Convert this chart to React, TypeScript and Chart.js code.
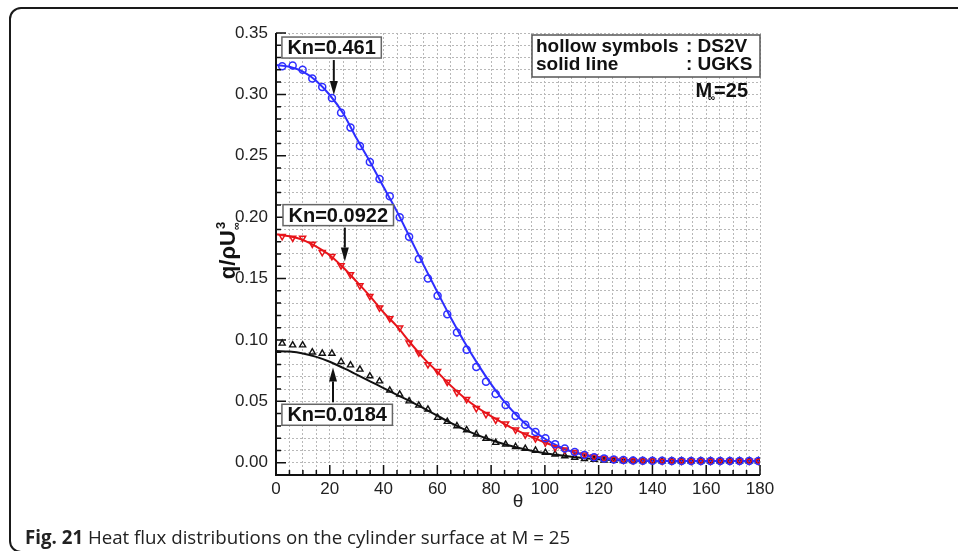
import { useEffect, useRef } from 'react';
import { Chart, registerables } from 'chart.js';

Chart.register(...registerables);

const FONT = '"Liberation Sans", Arial, Helvetica, sans-serif';

// ---------- data ----------
// DS2V (hollow symbols), theta in degrees
const dsmcTheta = [
  2.3, 6.2, 9.9, 13.5, 17.2, 20.8, 24.2, 27.7, 31.2, 34.9,
  38.5, 42.3, 46.0, 49.5, 53.1, 56.5, 60.1, 63.7, 67.3, 70.9,
  74.5, 78.1, 81.7, 85.4, 89.1, 92.7, 96.5, 100.2, 103.8, 107.4,
  111.1, 114.7, 118.3, 122.0, 125.6, 129.2, 132.8, 136.4, 140.0, 143.6,
  147.2, 150.8, 154.4, 158.0, 161.6, 165.2, 168.8, 172.4, 176.0, 179.4,
];
const dsmcKn0461 = [
  0.323, 0.3235, 0.320, 0.313, 0.306, 0.297, 0.285, 0.273, 0.258, 0.245,
  0.231, 0.217, 0.200, 0.184, 0.166, 0.150, 0.136, 0.121, 0.106, 0.092,
  0.078, 0.066, 0.056, 0.047, 0.038, 0.031, 0.025, 0.020, 0.015, 0.0115,
  0.0088, 0.0062, 0.0045, 0.0035, 0.0027, 0.0022, 0.0019, 0.0017, 0.0016, 0.0016,
  0.0015, 0.0015, 0.0015, 0.0014, 0.0015, 0.0015, 0.0014, 0.0015, 0.0015, 0.0015,
];
const dsmcKn00922 = [
  0.1844, 0.1831, 0.1831, 0.1782, 0.1714, 0.1681, 0.1606, 0.1533, 0.1443, 0.1356,
  0.1262, 0.1175, 0.1099, 0.0977, 0.0896, 0.0801, 0.0746, 0.0657, 0.0571, 0.0516,
  0.0443, 0.0394, 0.0348, 0.0318, 0.0268, 0.0228, 0.0197, 0.0164, 0.0124, 0.0105,
  0.0085, 0.0065, 0.0048, 0.0036, 0.0028, 0.0023, 0.0019, 0.0017, 0.0016, 0.0015,
  0.0015, 0.0015, 0.0015, 0.0015, 0.0014, 0.0015, 0.0015, 0.0015, 0.0015, 0.0015,
];
const dsmcKn00184 = [
  0.0972, 0.0958, 0.0958, 0.0900, 0.0890, 0.0890, 0.0823, 0.0795, 0.0760, 0.0706,
  0.0665, 0.0589, 0.0557, 0.0502, 0.0467, 0.0435, 0.0367, 0.0335, 0.0299, 0.0267,
  0.0232, 0.0197, 0.0164, 0.0150, 0.0130, 0.0115, 0.0100, 0.0083, 0.0069, 0.0055,
  0.0042, 0.0032, 0.0025, 0.0020, 0.0017, 0.0016, 0.0015, 0.0015, 0.0015, 0.0014,
  0.0014, 0.0014, 0.0014, 0.0014, 0.0014, 0.0014, 0.0014, 0.0014, 0.0014, 0.0014,
];

// UGKS (solid lines)
const ugksTheta = [
  0, 5, 10, 15, 20, 25, 30, 35, 40, 45, 50, 55, 60, 65, 70, 75, 80, 85, 90,
  95, 100, 105, 110, 115, 120, 125, 130, 135, 140, 145, 150, 155, 160, 165, 170, 175, 180,
];
const ugksKn0461 = [
  0.324, 0.3225, 0.3185, 0.311, 0.2995, 0.2845, 0.264, 0.245, 0.2245, 0.2045,
  0.1825, 0.1605, 0.139, 0.118, 0.0985, 0.0805, 0.064, 0.0495, 0.0375,
  0.0275, 0.0195, 0.0135, 0.009, 0.006, 0.004, 0.0028, 0.002, 0.0017, 0.0015,
  0.0014, 0.0014, 0.0014, 0.0014, 0.0014, 0.0014, 0.0014, 0.0014,
];
const ugksKn00922 = [
  0.186, 0.1845, 0.1815, 0.176, 0.169, 0.159, 0.1475, 0.1355, 0.1225, 0.111,
  0.0975, 0.085, 0.074, 0.0628, 0.053, 0.0448, 0.038, 0.0315, 0.026,
  0.021, 0.0165, 0.0125, 0.0092, 0.0066, 0.0047, 0.0033, 0.0024, 0.0019, 0.0016,
  0.0015, 0.0015, 0.0015, 0.0015, 0.0015, 0.0015, 0.0015, 0.0015,
];
const ugksKn00184 = [
  0.091, 0.0905, 0.089, 0.0862, 0.0822, 0.0772, 0.0718, 0.0663, 0.0608, 0.0553,
  0.050, 0.0442, 0.0383, 0.0325, 0.0272, 0.0225, 0.0185, 0.015, 0.0122,
  0.0098, 0.0078, 0.0062, 0.0048, 0.0037, 0.0029, 0.0023, 0.0019, 0.0016, 0.0015,
  0.0014, 0.0014, 0.0014, 0.0014, 0.0014, 0.0014, 0.0014, 0.0014,
];

const xTickLabels = ['0', '20', '40', '60', '80', '100', '120', '140', '160', '180'];
const yTickLabels = ['0.00', '0.05', '0.10', '0.15', '0.20', '0.25', '0.30', '0.35'];

const knLabels = ['Kn=0.461', 'Kn=0.0922', 'Kn=0.0184'];
// arrow tips (theta, value) and label box anchors (left theta, top value)
const knArrowTips = [[21.5, 0.2996], [25.6, 0.1638], [21.2, 0.0776]];
const knBoxAnchors = [[2.2, 0.3467], [2.6, 0.2102], [2.2, 0.0476]];

const BLUE = '#2e2eff';
const RED = '#e8141a';
const BLACK = '#111111';

function pts(xs: number[], ys: number[]) {
  return xs.map((x, i) => ({ x, y: ys[i] }));
}

const decoPlugin = {
  id: 'deco',
  afterDraw(chart: any) {
    const { ctx, chartArea: a, scales } = chart;
    const xs = scales.x;
    const ys = scales.y;
    ctx.save();

    // axis lines
    ctx.strokeStyle = '#111';
    ctx.lineWidth = 2;
    ctx.beginPath();
    ctx.moveTo(a.left, a.top);
    ctx.lineTo(a.left, a.bottom);
    ctx.lineTo(a.right, a.bottom);
    ctx.stroke();

    // inward ticks
    ctx.lineWidth = 1.5;
    ctx.beginPath();
    xs.ticks.forEach((t: any) => {
      const px = xs.getPixelForValue(t.value);
      const major = xTickLabels.includes(String(Math.round(t.value)));
      ctx.moveTo(px, a.bottom);
      ctx.lineTo(px, a.bottom - (major ? 10 : 5));
    });
    ys.ticks.forEach((t: any) => {
      const py = ys.getPixelForValue(t.value);
      const major = yTickLabels.includes(t.value.toFixed(2));
      ctx.moveTo(a.left, py);
      ctx.lineTo(a.left + (major ? 10 : 5), py);
    });
    ctx.stroke();

    // axis titles
    ctx.fillStyle = '#222';
    ctx.textAlign = 'center';
    ctx.textBaseline = 'middle';
    ctx.font = `19px ${FONT}`;
    ctx.fillText('θ', (a.left + a.right) / 2, a.bottom + 27);

    ctx.save();
    ctx.translate(a.left - 49, 250);
    ctx.rotate(-Math.PI / 2);
    ctx.font = `bold 22px ${FONT}`;
    const main = 'q/ρU';
    const w1 = ctx.measureText(main).width;
    ctx.font = `bold 13px ${FONT}`;
    const w2 = Math.max(ctx.measureText('3').width, ctx.measureText('∞').width);
    const start = -(w1 + w2) / 2;
    ctx.textAlign = 'left';
    ctx.textBaseline = 'alphabetic';
    ctx.fillStyle = '#111';
    ctx.font = `bold 22px ${FONT}`;
    ctx.fillText(main, start, 8);
    ctx.font = `bold 13px ${FONT}`;
    ctx.fillText('3', start + w1 + 1, -2);
    ctx.font = `bold 11px ${FONT}`;
    ctx.fillText('∞', start + w1, 13);
    ctx.restore();

    // Kn labels with arrows
    ctx.font = `bold 20px ${FONT}`;
    knLabels.forEach((label, i) => {
      const bx = xs.getPixelForValue(knBoxAnchors[i][0]);
      const by = ys.getPixelForValue(knBoxAnchors[i][1]);
      const tw = ctx.measureText(label).width;
      const bw = tw + 11;
      const bh = 21;
      ctx.fillStyle = '#fff';
      ctx.fillRect(bx, by, bw, bh);
      ctx.strokeStyle = '#666';
      ctx.lineWidth = 1.5;
      ctx.strokeRect(bx, by, bw, bh);
      ctx.fillStyle = '#111';
      ctx.textAlign = 'center';
      ctx.textBaseline = 'middle';
      ctx.fillText(label, bx + bw / 2, by + bh / 2 + 1);

      const tx = xs.getPixelForValue(knArrowTips[i][0]);
      const ty = ys.getPixelForValue(knArrowTips[i][1]);
      const y0 = ty > by ? by + bh + 2 : by - 2;
      const dir = Math.sign(ty - y0);
      const headLen = 14;
      const headW = 4;
      ctx.strokeStyle = '#111';
      ctx.lineWidth = 2;
      ctx.beginPath();
      ctx.moveTo(tx, y0);
      ctx.lineTo(tx, ty - dir * headLen);
      ctx.stroke();
      ctx.fillStyle = '#111';
      ctx.beginPath();
      ctx.moveTo(tx - headW, ty - dir * headLen);
      ctx.lineTo(tx + headW, ty - dir * headLen);
      ctx.lineTo(tx, ty);
      ctx.closePath();
      ctx.fill();
    });

    // legend box
    const lr = a.right;
    const ll = a.right - 228;
    const lt = a.top + 2;
    ctx.fillStyle = '#fff';
    ctx.fillRect(ll, lt, lr - ll, 42);
    ctx.strokeStyle = '#555';
    ctx.lineWidth = 1.5;
    ctx.strokeRect(ll, lt, lr - ll, 42);
    ctx.fillStyle = '#111';
    ctx.font = `bold 19px ${FONT}`;
    ctx.textAlign = 'left';
    ctx.textBaseline = 'middle';
    ctx.fillText('hollow symbols', ll + 4, lt + 12);
    ctx.fillText(': DS2V', ll + 154, lt + 12);
    ctx.fillText('solid line', ll + 4, lt + 30);
    ctx.fillText(': UGKS', ll + 154, lt + 30);

    // M∞=25
    ctx.font = `bold 20px ${FONT}`;
    ctx.textAlign = 'right';
    const rEdge = lr - 12;
    const wEq = ctx.measureText('=25').width;
    ctx.fillText('=25', rEdge, lt + 56);
    ctx.fillText('M', rEdge - wEq - 2, lt + 56);
    ctx.font = `bold 10px ${FONT}`;
    ctx.fillText('∞', rEdge - wEq + 1, lt + 63);

    ctx.restore();
  },
};

export default function App() {
  const ref = useRef<HTMLCanvasElement | null>(null);

  useEffect(() => {
    if (!ref.current) return;
    const chart = new Chart(ref.current, {
      type: 'scatter',
      data: {
        datasets: [
          {
            label: 'DS2V Kn=0.461',
            data: pts(dsmcTheta, dsmcKn0461),
            showLine: false,
            pointStyle: 'circle',
            pointRadius: 3.5,
            pointBorderWidth: 1.5,
            borderColor: BLUE,
            backgroundColor: 'rgba(0,0,0,0)',
            order: 0,
          },
          {
            label: 'DS2V Kn=0.0922',
            data: pts(dsmcTheta, dsmcKn00922),
            showLine: false,
            pointStyle: 'triangle',
            rotation: 180,
            pointRadius: 3.5,
            pointBorderWidth: 1.5,
            borderColor: RED,
            backgroundColor: 'rgba(0,0,0,0)',
            order: 1,
          },
          {
            label: 'DS2V Kn=0.0184',
            data: pts(dsmcTheta, dsmcKn00184),
            showLine: false,
            pointStyle: 'triangle',
            pointRadius: 3.5,
            pointBorderWidth: 1.4,
            borderColor: BLACK,
            backgroundColor: 'rgba(0,0,0,0)',
            order: 2,
          },
          {
            label: 'UGKS Kn=0.461',
            data: pts(ugksTheta, ugksKn0461),
            showLine: true,
            pointRadius: 0,
            borderWidth: 2,
            borderColor: BLUE,
            cubicInterpolationMode: 'monotone',
            order: 3,
          },
          {
            label: 'UGKS Kn=0.0922',
            data: pts(ugksTheta, ugksKn00922),
            showLine: true,
            pointRadius: 0,
            borderWidth: 2,
            borderColor: RED,
            cubicInterpolationMode: 'monotone',
            order: 4,
          },
          {
            label: 'UGKS Kn=0.0184',
            data: pts(ugksTheta, ugksKn00184),
            showLine: true,
            pointRadius: 0,
            borderWidth: 2,
            borderColor: BLACK,
            cubicInterpolationMode: 'monotone',
            order: 5,
          },
        ],
      },
      options: {
        responsive: false,
        maintainAspectRatio: false,
        animation: false,
        devicePixelRatio: 1,
        layout: { padding: { left: 0, right: 198, top: 33, bottom: 0 } },
        plugins: { legend: { display: false }, tooltip: { enabled: false } },
        scales: {
          x: {
            type: 'linear',
            min: 0,
            max: 180,
            afterFit(s: any) {
              s.height = 76;
            },
            ticks: {
              stepSize: 5,
              autoSkip: false,
              maxRotation: 0,
              minRotation: 0,
              padding: 4,
              color: '#222',
              font: { family: FONT, size: 17 },
              callback: (v: any) => {
                const s = String(Math.round(Number(v)));
                return xTickLabels.includes(s) ? s : '';
              },
            },
            grid: { color: '#b8b8b8', lineWidth: 1, drawTicks: false },
            border: { display: false, dash: [2, 2] },
          },
          y: {
            type: 'linear',
            min: -0.01,
            max: 0.35,
            afterFit(s: any) {
              s.width = 276;
            },
            ticks: {
              stepSize: 0.01,
              autoSkip: false,
              padding: 8,
              color: '#222',
              font: { family: FONT, size: 17 },
              callback: (v: any) => {
                const s = Number(v).toFixed(2);
                return yTickLabels.includes(s) ? s : '';
              },
            },
            grid: { color: '#b8b8b8', lineWidth: 1, drawTicks: false },
            border: { display: false, dash: [2, 2] },
          },
        },
      } as any,
      plugins: [decoPlugin],
    });
    return () => chart.destroy();
  }, []);

  return (
    <div
      style={{
        position: 'absolute',
        left: 0,
        top: 0,
        width: 958,
        height: 551,
        overflow: 'hidden',
        background: '#fff',
      }}
    >
      <div
        style={{
          position: 'absolute',
          left: 9,
          top: 7,
          width: 1000,
          height: 546,
          border: '2px solid #1a1a1a',
          borderRadius: 12,
          boxSizing: 'border-box',
        }}
      />
      <canvas
        ref={ref}
        width={958}
        height={551}
        style={{ position: 'absolute', left: 0, top: 0, width: 958, height: 551 }}
      />
      <div
        style={{
          position: 'absolute',
          left: 25,
          top: 524,
          fontFamily: '"Open Sans", "Noto Sans", sans-serif',
          fontSize: 18.7,
          lineHeight: '26px',
          color: '#222',
          whiteSpace: 'nowrap',
        }}
      >
        <b>Fig. 21</b> Heat flux distributions on the cylinder surface at M = 25
      </div>
    </div>
  );
}
